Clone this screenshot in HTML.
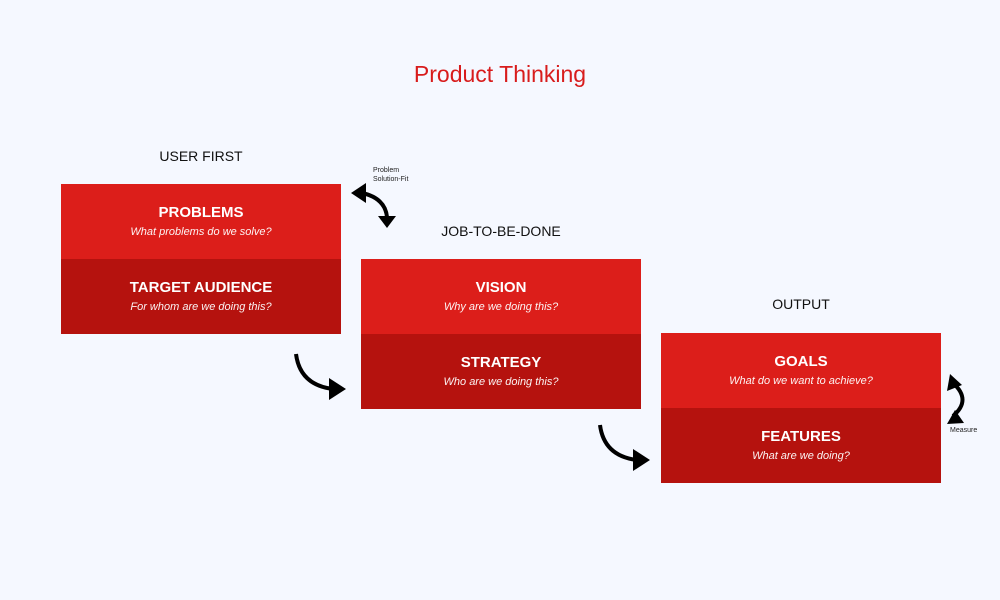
<!DOCTYPE html>
<html><head><meta charset="utf-8"><style>
body{margin:0;width:1000px;height:600px;background:#f5f8ff;font-family:"Liberation Sans",Roboto,sans-serif;position:relative;overflow:hidden}
.t{position:absolute;text-align:center}
.b{position:absolute;width:280px;height:75px;color:#fff;text-align:center}
.b h{display:block;font-weight:bold;font-size:15px;margin-top:20px}
.b i{display:block;font-size:11px;margin-top:5px;opacity:.95}
.r1{background:#dc1e1a}.r2{background:#b5120e}
.lbl{position:absolute;font-size:14px;color:#111;width:280px;text-align:center}
</style></head><body>
<div class="t" style="left:0;width:1000px;top:61px;font-size:23px;color:#d81c1c">Product Thinking</div>
<div class="lbl" style="left:61px;top:148px">USER FIRST</div>
<div class="lbl" style="left:361px;top:223px">JOB-TO-BE-DONE</div>
<div class="lbl" style="left:661px;top:296px">OUTPUT</div>
<div class="b r1" style="left:61px;top:184px"><h>PROBLEMS</h><i>What problems do we solve?</i></div>
<div class="b r2" style="left:61px;top:259px"><h>TARGET AUDIENCE</h><i>For whom are we doing this?</i></div>
<div class="b r1" style="left:361px;top:259px"><h>VISION</h><i>Why are we doing this?</i></div>
<div class="b r2" style="left:361px;top:334px"><h>STRATEGY</h><i>Who are we doing this?</i></div>
<div class="b r1" style="left:661px;top:333px"><h>GOALS</h><i>What do we want to achieve?</i></div>
<div class="b r2" style="left:661px;top:408px"><h>FEATURES</h><i>What are we doing?</i></div>
<div style="position:absolute;left:373px;top:166px;font-size:7px;line-height:9px;color:#222">Problem<br>Solution-Fit</div>
<div style="position:absolute;left:950px;top:427px;font-size:7px;color:#222">Measure</div>
<svg width="1000" height="600" style="position:absolute;left:0;top:0">
<g fill="none" stroke="#000" stroke-width="4">
<path d="M296,354 Q300,385 333,389"/>
<path d="M600,425 Q604,456 637,460"/>
<path d="M362,193 Q385,198 387,217"/>
<path d="M953,383 Q972,400 953,416"/>
</g>
<g fill="#000">
<polygon points="346,389 329,378 329,400"/>
<polygon points="650,460 633,449 633,471"/>
<polygon points="351,193 366,183 366,203"/>
<polygon points="387,228 378,216 396,216"/>
<polygon points="950,374 947,391 962,385"/>
<polygon points="947,424 964,423 955,410"/>
</g>
</svg>
</body></html>
